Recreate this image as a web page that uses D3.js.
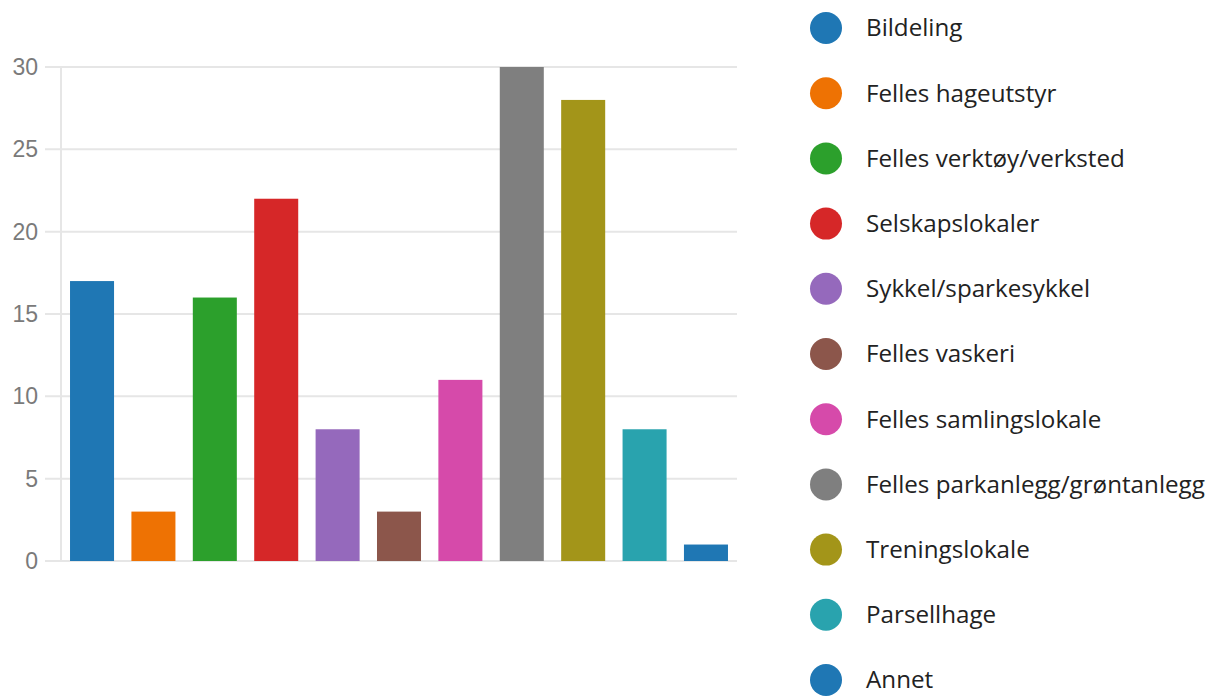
<!DOCTYPE html>
<html><head><meta charset="utf-8">
<script src="https://cdn.jsdelivr.net/npm/d3@7"></script>
<style>body{margin:0;background:#fff;} svg{display:block;}</style>
</head><body>
<svg id="chart" width="1212" height="697"></svg>
<script>
const categories = ["Bildeling","Felles hageutstyr","Felles verktøy/verksted","Selskapslokaler","Sykkel/sparkesykkel","Felles vaskeri","Felles samlingslokale","Felles parkanlegg/grøntanlegg","Treningslokale","Parsellhage","Annet"];
const values = [17,3,16,22,8,3,11,30,28,8,1];
const colors = ["#1f77b4","#ee7203","#2ca02c","#d62728","#9569bc","#8c564b","#d64aaa","#7f7f7f","#a39519","#29a3ae","#1f77b4"];
const yTicks = [0,5,10,15,20,25,30];

const svg = d3.select("#chart");
const x = d3.scaleBand().domain(categories).range([61,737]).paddingInner(0.283).paddingOuter(0.147);
const y = d3.scaleLinear().domain([0,30]).range([561,67]);

// gridlines
svg.append("g").selectAll("line").data(yTicks).join("line")
  .attr("x1",45).attr("x2",737).attr("y1",d=>y(d)).attr("y2",d=>y(d))
  .attr("stroke","#e6e6e6").attr("stroke-width",2);
svg.append("line").attr("x1",61).attr("x2",61).attr("y1",67).attr("y2",561)
  .attr("stroke","#e6e6e6").attr("stroke-width",2);

// y axis labels
const yAxis = d3.axisLeft(y).tickValues(yTicks).tickSize(0).tickPadding(0);
const ga = svg.append("g").attr("transform","translate(38,0)").call(yAxis);
ga.select(".domain").remove();
ga.selectAll("text").attr("font-family","Liberation Sans, Arial, sans-serif").attr("font-size",23).attr("fill","#7a7a7a");

// bars
svg.append("g").selectAll("rect").data(values).join("rect")
  .attr("x",(d,i)=>x(categories[i])).attr("width",x.bandwidth())
  .attr("y",d=>y(d)).attr("height",d=>y(0)-y(d))
  .attr("fill",(d,i)=>colors[i]);

// legend
const lg = svg.append("g");
const items = lg.selectAll("g").data(categories).join("g")
  .attr("transform",(d,i)=>`translate(826,${28+i*65.2})`);
items.append("circle").attr("r",16).attr("fill",(d,i)=>colors[i]);
items.append("text").attr("x",40).attr("dy","0.35em").text(d=>d)
  .attr("font-family","Open Sans, Noto Sans, sans-serif").attr("font-size",24.2).attr("fill","#222");
</script>
</body></html>
